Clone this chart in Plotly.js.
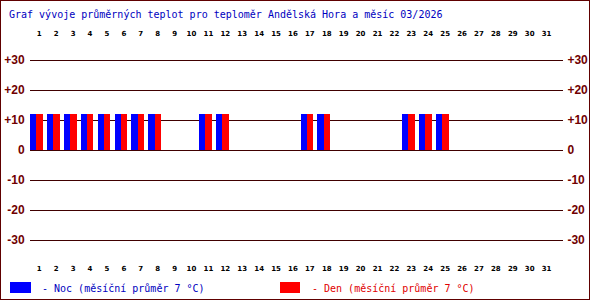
<!DOCTYPE html>
<html><head><meta charset="utf-8">
<script src="https://cdn.plot.ly/plotly-3.0.1.min.js"></script>
<style>
html,body{margin:0;padding:0;background:#fff;}
#chart{position:absolute;left:0;top:0;width:588px;height:298px;border:1px solid #600000;}
</style></head>
<body><div id="chart"></div>
<script>
// ---- data ----
const days = [1,2,3,4,5,6,7,8,11,12,17,18,23,24,25];
const noc  = [12,12,12,12,12,12,12,12,12,12,12,12,12,12,12];
const den  = [12,12,12,12,12,12,12,12,12,12,12,12,12,12,12];
const dayTicks = Array.from({length:31},(_,i)=>i+1);
const yTickVals = [-30,-20,-10,0,10,20,30];
const yTickText = ['-30','-20','-10','0','+10','+20','+30'];
const titleText = 'Graf vývoje průměrných teplot pro teploměr Andělská Hora a měsíc 03/2026';
const legNoc = '- Noc (měsíční průměr 7 °C)';
const legDen = '- Den (měsíční průměr 7 °C)';

// layout helpers (page pixel -> paper coords)
const L=29, T=44, W=533, H=210;
const px = p => (p-1-L)/W;
const py = p => 1-(p-1-T)/H;

const traces = [
  {type:'bar', x:days, y:noc, marker:{color:'#0000ff', line:{width:0}}, offset:-0.55, width:0.37, hoverinfo:'skip'},
  {type:'bar', x:days, y:den, marker:{color:'#ff0000', line:{width:0}}, offset:-0.18, width:0.38, hoverinfo:'skip'},
  {type:'scatter', x:[1], y:[0], xaxis:'x2', yaxis:'y2', mode:'none', hoverinfo:'skip'}
];

const tickFont = {family:'DejaVu Sans', size:7, color:'#000', weight:'bold'};
const yFont = {family:'Liberation Sans', size:12, color:'#700000', weight:'bold'};
const xr = [0.45, 31.97];

const layout = {
  width:588, height:298,
  margin:{l:L, r:588-L-W, t:T, b:298-T-H, pad:0},
  paper_bgcolor:'#fff', plot_bgcolor:'#fff',
  showlegend:false, barmode:'overlay', bargap:0,
  font:{family:'DejaVu Sans Mono'},
  title:{text:titleText, x:8/588, xref:'container', xanchor:'left', y:1-13/298, yanchor:'middle',
         font:{family:'DejaVu Sans Mono', size:10, color:'#0000c0'}},
  xaxis:{range:xr, tickvals:dayTicks, ticktext:dayTicks.map(String), showgrid:false, zeroline:false,
         showline:false, ticks:'outside', ticklen:7, tickcolor:'rgba(0,0,0,0)', tickfont:tickFont, fixedrange:true},
  xaxis2:{range:xr, overlaying:'x', side:'top', anchor:'y', tickvals:dayTicks, ticktext:dayTicks.map(String),
          showgrid:false, zeroline:false, showline:false, ticks:'outside', ticklen:5, tickcolor:'rgba(0,0,0,0)',
          tickfont:tickFont, fixedrange:true},
  yaxis:{range:[-35,35], tickvals:yTickVals, ticktext:yTickText, showgrid:true, gridcolor:'#400000', gridwidth:1,
         zeroline:true, zerolinecolor:'#400000', zerolinewidth:1, showline:false, ticks:'outside', ticklen:2,
         tickcolor:'rgba(0,0,0,0)', tickfont:yFont, fixedrange:true},
  yaxis2:{range:[-35,35], overlaying:'y', side:'right', anchor:'x', tickvals:yTickVals, ticktext:yTickText,
          showgrid:false, zeroline:false, showline:false, ticks:'outside', ticklen:1, tickcolor:'rgba(0,0,0,0)',
          tickfont:yFont, fixedrange:true},
  shapes:[
    {type:'rect', xref:'paper', yref:'paper', x0:px(10), x1:px(31), y0:py(293), y1:py(282), fillcolor:'#0000ff', line:{width:0}},
    {type:'rect', xref:'paper', yref:'paper', x0:px(280), x1:px(300), y0:py(293), y1:py(282), fillcolor:'#ff0000', line:{width:0}}
  ],
  annotations:[
    {text:legNoc, xref:'paper', yref:'paper', x:px(40), y:py(288), xanchor:'left', yanchor:'middle', showarrow:false,
     font:{family:'DejaVu Sans Mono', size:10, color:'#0000c0'}},
    {text:legDen, xref:'paper', yref:'paper', x:px(310), y:py(288), xanchor:'left', yanchor:'middle', showarrow:false,
     font:{family:'DejaVu Sans Mono', size:10, color:'#e00000'}}
  ]
};
Plotly.newPlot('chart', traces, layout, {displayModeBar:false, staticPlot:true});
</script></body></html>
